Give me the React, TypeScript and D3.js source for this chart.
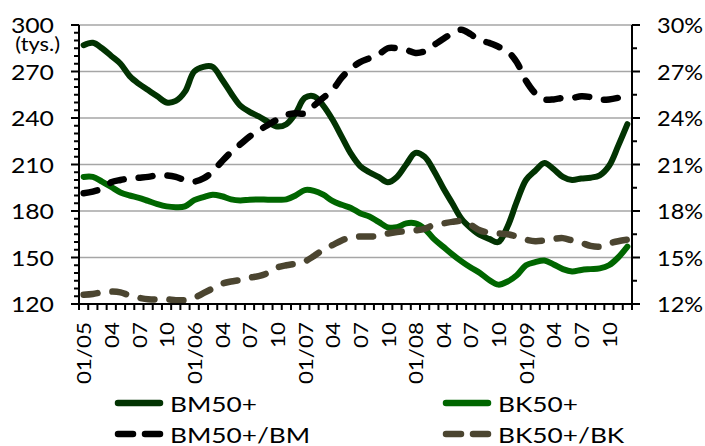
import React from "react";
import * as d3 from "d3";

// Monthly categories 01/2005 – 12/2009
const YEARS = ["05", "06", "07", "08", "09"];
const MONTHS = ["01", "02", "03", "04", "05", "06", "07", "08", "09", "10", "11", "12"];
const CATEGORIES = YEARS.flatMap((y) => MONTHS.map((m) => `${m}/${y}`));
const LABEL_MONTHS = ["01", "04", "07", "10"];

// Unemployed aged 50+ (thousands) – left axis
const BM50 = [
  287, 288.5, 285, 280, 275, 267, 262, 258, 254, 250,
  251, 257, 270, 273, 273, 265, 256, 248, 244, 241,
  237.5, 234.5, 236, 243, 253, 254, 248, 239, 228, 217,
  209, 205, 202, 198.5, 202, 210, 217.5, 215, 206, 195,
  185, 175, 169, 164.5, 162, 160, 170, 186, 200, 206,
  211, 207, 202, 200, 201, 201.5, 203, 209, 222, 236,
];
const BK50 = [
  202, 202, 199, 195.5, 192, 190, 188.5, 186.5, 184.5, 183,
  182.5, 183, 187, 189, 190.5, 189.5, 187.5, 186.8, 187.3, 187.5,
  187.3, 187.3, 187.5, 190, 193.5, 193, 190.5, 186.5, 184, 182,
  178.5, 176.5, 173, 169.5, 169.5, 172, 172, 168.5, 162, 157,
  152, 147.5, 143.5, 140, 135.5, 132.5, 134.5, 138.5, 145, 147,
  148, 145.5, 142.5, 141, 142, 142.5, 143, 145, 150, 157,
];
// Shares (%) – right axis
const BM50_SHARE = [
  19.15, 19.25, 19.45, 19.85, 20.0, 20.1, 20.15, 20.2, 20.3, 20.3,
  20.2, 20.0, 19.9, 20.1, 20.55, 21.2, 21.8, 22.3, 22.8, 23.2,
  23.55, 23.9, 24.2, 24.3, 24.3, 24.8, 25.3, 25.8, 26.6, 27.2,
  27.6, 27.85, 28.1, 28.5, 28.5, 28.4, 28.2, 28.3, 28.7, 29.1,
  29.45, 29.7, 29.4, 29.0, 28.85, 28.6, 28.3, 27.6, 26.4, 25.6,
  25.2, 25.2, 25.3, 25.3, 25.4, 25.35, 25.2, 25.2, 25.3, 25.45,
];
const BK50_SHARE = [
  12.6, 12.65, 12.75, 12.8, 12.75, 12.55, 12.4, 12.3, 12.3, 12.3,
  12.25, 12.25, 12.4, 12.7, 13.0, 13.3, 13.45, 13.55, 13.7, 13.8,
  14.0, 14.35, 14.5, 14.6, 14.75, 15.1, 15.5, 15.8, 16.1, 16.3,
  16.35, 16.35, 16.4, 16.55, 16.65, 16.7, 16.75, 16.85, 17.1, 17.2,
  17.3, 17.35, 17.1, 16.75, 16.6, 16.55, 16.5, 16.35, 16.15, 16.05,
  16.1, 16.2, 16.25, 16.1, 15.95, 15.75, 15.7, 15.9, 16.05, 16.15,
];

const LEFT_TICKS = [120, 150, 180, 210, 240, 270, 300];
const RIGHT_TICKS = [12, 15, 18, 21, 24, 27, 30];

const SERIES = [
  { name: "BM50+", values: BM50, axis: "left", color: "#023302", dash: null },
  { name: "BK50+", values: BK50, axis: "left", color: "#006600", dash: null },
  { name: "BM50+/BM", values: BM50_SHARE, axis: "right", color: "#000000", dash: "14 15" },
  { name: "BK50+/BK", values: BK50_SHARE, axis: "right", color: "#4b4530", dash: "14 15" },
];

const W = 705;
const H = 446;
const M = { left: 79, right: 632, top: 25, bottom: 304 };
const FONT = "Lato, 'Open Sans', sans-serif";

export default function App() {
  const x = d3.scaleBand<string>().domain(CATEGORIES).range([M.left, M.right]).padding(0);
  const cx = (c: string) => (x(c) as number) + x.bandwidth() / 2;
  const yL = d3.scaleLinear().domain([120, 300]).range([M.bottom, M.top]);
  const yR = d3.scaleLinear().domain([12, 30]).range([M.bottom, M.top]);

  const lineFor = (s: typeof SERIES[number]) => {
    const y = s.axis === "left" ? yL : yR;
    return d3
      .line<number>()
      .x((_, i) => cx(CATEGORIES[i]))
      .y((v) => y(v))
      .curve(d3.curveCatmullRom.alpha(0.5))(s.values) as string;
  };

  const leftMinor = d3.range(120, 300.1, 5);
  const rightMinor = d3.range(12, 30.01, 1.5);
  const xTickPos = CATEGORIES.map((c) => x(c) as number).concat([M.right]);

  const legend = [
    { s: SERIES[0], lx: 115, ly: 403 },
    { s: SERIES[1], lx: 443, ly: 403 },
    { s: SERIES[2], lx: 115, ly: 434 },
    { s: SERIES[3], lx: 443, ly: 434 },
  ];

  return (
    <svg
      width={W}
      height={H}
      style={{ position: "absolute", left: 0, top: 0, background: "#fff" }}
      fontFamily={FONT}
    >
      {/* gridlines */}
      {LEFT_TICKS.slice(1).map((t) => (
        <line key={t} x1={M.left} x2={M.right} y1={yL(t)} y2={yL(t)} stroke="#a6a6a6" strokeWidth={1.3} />
      ))}

      {/* series */}
      {SERIES.map((s) => (
        <path
          key={s.name}
          d={lineFor(s)}
          fill="none"
          stroke={s.color}
          strokeWidth={s.dash ? 6.5 : 6}
          strokeLinecap="round"
          strokeLinejoin="round"
          strokeDasharray={s.dash ?? undefined}
        />
      ))}

      {/* left axis */}
      <line x1={M.left} x2={M.left} y1={M.top} y2={M.bottom} stroke="#000" strokeWidth={2} />
      {leftMinor.map((t) => (
        <line
          key={t}
          x1={M.left}
          x2={M.left - (t % 30 === 0 ? 8 : 5)}
          y1={yL(t)}
          y2={yL(t)}
          stroke="#000"
          strokeWidth={2}
        />
      ))}
      {LEFT_TICKS.map((t) => (
        <text
          key={t}
          transform={`translate(54,${yL(t)}) scale(1.18,1)`}
          textAnchor="end"
          dominantBaseline="central"
          fontSize={21}
          fill="#000"
        >
          {t}
        </text>
      ))}
      <text
        transform={`translate(60,${yL(300) + 19}) scale(1.15,1)`}
        textAnchor="end"
        dominantBaseline="central"
        fontSize={19}
        fill="#000"
      >
        (tys.)
      </text>

      {/* right axis */}
      <line x1={M.right} x2={M.right} y1={M.top} y2={M.bottom} stroke="#000" strokeWidth={2} />
      {rightMinor.map((t) => (
        <line
          key={t}
          x1={M.right}
          x2={M.right + (Math.abs(t % 3) < 1e-6 ? 8 : 5)}
          y1={yR(t)}
          y2={yR(t)}
          stroke="#000"
          strokeWidth={2}
        />
      ))}
      {RIGHT_TICKS.map((t) => (
        <text
          key={t}
          transform={`translate(657,${yR(t)}) scale(1.12,1)`}
          textAnchor="start"
          dominantBaseline="central"
          fontSize={21}
          fill="#000"
        >
          {t}%
        </text>
      ))}

      {/* x axis */}
      <line x1={M.left - 8} x2={M.right + 8} y1={M.bottom} y2={M.bottom} stroke="#000" strokeWidth={2} />
      {xTickPos.map((p, i) => (
        <line key={i} x1={p} x2={p} y1={M.bottom} y2={M.bottom + 6} stroke="#000" strokeWidth={2} />
      ))}
      {CATEGORIES.filter((c) => LABEL_MONTHS.includes(c.slice(0, 2))).map((c) => {
        const label = c.startsWith("01/") ? c : c.slice(0, 2);
        return (
          <text
            key={c}
            transform={`translate(${cx(c)},322) rotate(-90) scale(1.18,1)`}
            textAnchor="end"
            dominantBaseline="central"
            fontSize={19}
            fill="#000"
          >
            {label}
          </text>
        );
      })}

      {/* legend */}
      {legend.map(({ s, lx, ly }) => (
        <g key={s.name}>
          <line
            x1={lx + 3}
            x2={lx + 45}
            y1={ly}
            y2={ly}
            stroke={s.color}
            strokeWidth={6.5}
            strokeLinecap="round"
            strokeDasharray={s.dash ? "15 12" : undefined}
          />
          <text
            transform={`translate(${lx + 55},${ly + 1}) scale(1.25,1)`}
            dominantBaseline="central"
            fontSize={21}
            fill="#000"
          >
            {s.name}
          </text>
        </g>
      ))}
    </svg>
  );
}
